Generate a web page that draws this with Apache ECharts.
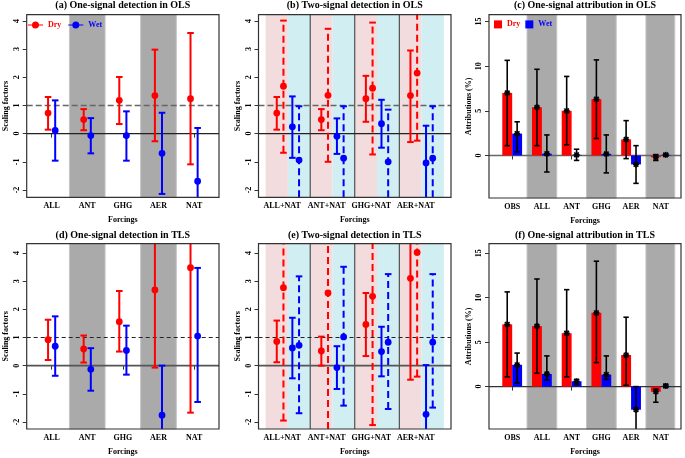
<!DOCTYPE html>
<html><head><meta charset="utf-8">
<script src="https://cdn.jsdelivr.net/npm/echarts@6/dist/echarts.min.js"></script>
<style>html,body{margin:0;padding:0;background:#fff}#c{width:685px;height:458px}</style>
</head><body><div id="c"></div>
<script>
// ---------------- DATA ----------------
var oneCats = ['ALL', 'ANT', 'GHG', 'AER', 'NAT'];
var twoCats = ['ALL+NAT', 'ANT+NAT', 'GHG+NAT', 'AER+NAT'];
var attrCats = ['OBS', 'ALL', 'ANT', 'GHG', 'AER', 'NAT'];
var sfTicks = [-2, -1, 0, 1, 2, 3, 4];
var attrTicks = [0, 5, 10, 15];
// each entry: [best estimate, lower bound, upper bound]
// (a) one-signal detection, OLS
var olsOneDry = [[0.73, 0.14, 1.30], [0.50, 0.12, 0.87], [1.18, 0.34, 2.01], [1.35, -0.27, 2.98], [1.24, -1.09, 3.57]];
var olsOneWet = [[0.11, -0.96, 1.18], [-0.07, -0.70, 0.55], [-0.07, -0.96, 0.79], [-0.70, -2.14, 0.74], [-1.69, -3.58, 0.20]];
// (b) two-signal detection, OLS (solid = first signal, dashed = NAT)
var olsTwoDrySig = [[0.73, 0.14, 1.30], [0.50, 0.12, 0.87], [1.24, 0.42, 2.05], [1.35, -0.30, 2.95]];
var olsTwoDryNat = [[1.68, -0.68, 4.01], [1.36, -1.00, 3.72], [1.61, -0.74, 3.94], [2.15, -0.25, 4.55]];
var olsTwoWetSig = [[0.24, -0.86, 1.32], [-0.09, -0.72, 0.54], [0.35, -0.50, 1.20], [-1.04, -2.36, 0.28]];
var olsTwoWetNat = [[-0.94, -2.85, 0.97], [-0.87, -2.71, 0.97], [-1.00, -2.85, 0.85], [-0.87, -2.71, 0.97]];
// (c) one-signal attribution, OLS (%)
var olsAttrDry = [[7.0, 1.1, 10.65], [5.4, 1.1, 9.65], [5.0, 1.2, 8.85], [6.3, 1.9, 10.7], [1.8, -0.35, 3.9], [-0.2, -0.56, 0.1]];
var olsAttrWet = [[2.45, 0.4, 3.77], [0.2, -1.85, 2.3], [0.07, -0.55, 0.7], [0.18, -1.95, 2.3], [-1.0, -3.12, 1.1], [0.07, -0.05, 0.18]];
// (d) one-signal detection, TLS
var tlsOneDry = [[0.92, 0.20, 1.63], [0.59, 0.11, 1.07], [1.56, 0.50, 2.65], [2.69, -0.07, 5.45], [3.48, -1.67, 8.63]];
var tlsOneWet = [[0.69, -0.36, 1.75], [-0.13, -0.89, 0.62], [0.54, -0.32, 1.42], [-1.76, -3.52, 0.0], [1.05, -1.29, 3.47]];
// (e) two-signal detection, TLS
var tlsTwoDrySig = [[0.86, 0.12, 1.60], [0.52, 0.0, 1.03], [1.46, 0.34, 2.58], [3.10, -0.50, 6.70]];
var tlsTwoDryNat = [[2.77, -1.95, 7.49], [2.58, -2.60, 7.80], [2.46, -2.11, 7.03], [4.02, -0.39, 8.43]];
var tlsTwoWetSig = [[0.63, -0.45, 1.70], [-0.07, -0.83, 0.69], [0.50, -0.38, 1.38], [-1.73, -3.48, 0.02]];
var tlsTwoWetNat = [[0.72, -1.69, 3.17], [1.02, -1.42, 3.51], [0.83, -1.54, 3.25], [0.83, -1.49, 3.25]];
// (f) one-signal attribution, TLS (%)
var tlsAttrDry = [[7.0, 1.1, 10.65], [6.8, 1.5, 12.1], [6.0, 1.1, 10.9], [8.3, 2.7, 14.1], [3.55, 0.15, 7.8], [-0.58, -1.76, -0.3]];
var tlsAttrWet = [[2.45, 0.4, 3.77], [1.42, 0.75, 3.45], [0.6, 0.22, 0.8], [1.35, 0.8, 3.45], [-2.6, -5.2, 0.0], [0.07, -0.1, 0.25]];

// ---------------- STYLE / LAYOUT ----------------
var FONT = '"Liberation Serif", "Times New Roman", serif';
var RED = '#ff0000', BLUE = '#0000ff';
var GRAY = '#aaaaaa', PINK = '#f3dcdd', CYAN = '#d1eef2';

var grids = [
  {left: 26.7, top: 14.7, width: 192.3, height: 182.6},
  {left: 258.5, top: 14.7, width: 192.5, height: 182.6},
  {left: 489, top: 14.7, width: 192, height: 183.3},
  {left: 26.7, top: 243.7, width: 192.3, height: 185.3},
  {left: 258.5, top: 243.7, width: 192.5, height: 185.3},
  {left: 489, top: 243.7, width: 192, height: 185.3}
];
var titles = ['(a) One-signal detection in OLS', '(b) Two-signal detection in OLS', '(c) One-signal attribution in OLS',
              '(d) One-signal detection in TLS', '(e) Two-signal detection in TLS', '(f) One-signal attribution in TLS'];
var xRanges = [[0.3, 5.7], [0.34, 4.66], [0.22, 6.68], [0.3, 5.7], [0.34, 4.66], [0.22, 6.68]];
var yRanges = [[-2.26, 4.22], [-2.26, 4.22], [-4.76, 15.76], [-2.25, 4.33], [-2.25, 4.33], [-4.77, 16.07]];
var TWO_TICK_OFF = -0.13;

function catIndexPositions(n, off) { var r = []; for (var i = 1; i <= n; i++) r.push(+(i + off).toFixed(3)); return r; }

function makeX(gi, cats, off) {
  var pos = catIndexPositions(cats.length, off);
  var map = {}; pos.forEach(function (p, i) { map[p.toFixed(3)] = cats[i]; });
  return {
    type: 'value', gridIndex: gi, min: xRanges[gi][0], max: xRanges[gi][1],
    name: 'Forcings', nameLocation: 'middle', nameGap: 19,
    nameTextStyle: {fontFamily: FONT, fontWeight: 'bold', fontSize: 8, color: '#000'},
    axisLine: {show: false}, splitLine: {show: false},
    axisTick: {show: true, length: 4, customValues: pos, lineStyle: {color: '#333', width: 1}},
    axisLabel: {show: true, customValues: pos, margin: 5, fontFamily: FONT, fontWeight: 'bold', fontSize: 8, color: '#000',
      formatter: function (v) { return map[(+v).toFixed(3)] || ''; }}
  };
}
function makeY(gi, name, ticks, gap) {
  return {
    type: 'value', gridIndex: gi, min: yRanges[gi][0], max: yRanges[gi][1],
    name: name, nameLocation: 'middle', nameGap: gap,
    nameTextStyle: {fontFamily: FONT, fontWeight: 'bold', fontSize: 8, color: '#000'},
    axisLine: {show: false}, splitLine: {show: false},
    axisTick: {show: true, length: 4, customValues: ticks, lineStyle: {color: '#333', width: 1}},
    axisLabel: {show: true, customValues: ticks, rotate: 90, margin: 6, fontFamily: FONT, fontWeight: 'bold', fontSize: 8, color: '#000'}
  };
}

var series = [];
function bandSeries(gi, bands, color, stroke) {
  series.push({
    type: 'custom', xAxisIndex: gi, yAxisIndex: gi, z: 1, silent: true,
    data: bands,
    renderItem: function (params, api) {
      var cs = params.coordSys;
      var x0 = api.coord([api.value(0), 0])[0], x1 = api.coord([api.value(1), 0])[0];
      return {type: 'rect', shape: {x: x0, y: cs.y, width: x1 - x0, height: cs.height},
        style: {fill: color, stroke: stroke || null, lineWidth: stroke ? 1 : 0}};
    }
  });
}
function vlineSeries(gi, xs, color, width) {
  series.push({
    type: 'custom', xAxisIndex: gi, yAxisIndex: gi, z: 2, silent: true,
    data: xs.map(function (x) { return [x]; }),
    renderItem: function (params, api) {
      var cs = params.coordSys;
      var x = api.coord([api.value(0), 0])[0];
      return {type: 'line', shape: {x1: x, y1: cs.y, x2: x, y2: cs.y + cs.height}, style: {stroke: color, lineWidth: width}};
    }
  });
}
function hlineSeries(gi, y, color, width, dash) {
  series.push({
    type: 'custom', xAxisIndex: gi, yAxisIndex: gi, z: 2, silent: true,
    data: [[1, y]],
    renderItem: function (params, api) {
      var cs = params.coordSys;
      var yy = api.coord([api.value(0), api.value(1)])[1];
      return {type: 'line', shape: {x1: cs.x, y1: yy, x2: cs.x + cs.width, y2: yy},
        style: {stroke: color, lineWidth: width, lineDash: dash || null}};
    }
  });
}
function errSeries(gi, name, vals, off, color, dashed, marker, lw, cap) {
  series.push({
    type: 'custom', name: name, xAxisIndex: gi, yAxisIndex: gi, z: 4, silent: true,
    itemStyle: {color: color},
    data: vals.map(function (v, i) { return [i + 1 + off, v[0], v[1], v[2]]; }),
    renderItem: function (params, api) {
      var cs = params.coordSys, top = cs.y, bot = cs.y + cs.height;
      var x = api.value(0);
      var pm = api.coord([x, api.value(1)]);
      var yl = api.coord([x, api.value(2)])[1], yh = api.coord([x, api.value(3)])[1];
      var px = pm[0];
      var ya = Math.max(top, Math.min(bot, yl)), yb = Math.max(top, Math.min(bot, yh));
      var ch = [{type: 'line', shape: {x1: px, y1: ya, x2: px, y2: yb},
        style: {stroke: color, lineWidth: lw, lineDash: dashed ? [7, 4] : null}}];
      [yl, yh].forEach(function (yy) {
        if (yy >= top - 0.5 && yy <= bot + 0.5) ch.push({type: 'line', shape: {x1: px - cap, y1: yy, x2: px + cap, y2: yy}, style: {stroke: color, lineWidth: lw}});
      });
      if (marker === 'dot') {
        ch.push({type: 'circle', shape: {cx: px, cy: pm[1], r: 3.4}, style: {fill: color}});
      } else {
        var r = 3, d = 2.3;
        ch.push({type: 'line', shape: {x1: px - r, y1: pm[1], x2: px + r, y2: pm[1]}, style: {stroke: color, lineWidth: 1.6}});
        ch.push({type: 'line', shape: {x1: px, y1: pm[1] - r, x2: px, y2: pm[1] + r}, style: {stroke: color, lineWidth: 1.6}});
        ch.push({type: 'line', shape: {x1: px - d, y1: pm[1] - d, x2: px + d, y2: pm[1] + d}, style: {stroke: color, lineWidth: 1.6}});
        ch.push({type: 'line', shape: {x1: px - d, y1: pm[1] + d, x2: px + d, y2: pm[1] - d}, style: {stroke: color, lineWidth: 1.6}});
      }
      return {type: 'group', children: ch};
    }
  });
}
function barSeries(gi, name, vals, side, color) {
  series.push({
    type: 'custom', name: name, xAxisIndex: gi, yAxisIndex: gi, z: 3, silent: true,
    itemStyle: {color: color},
    data: vals.map(function (v, i) { return [i + 1, v[0]]; }),
    renderItem: function (params, api) {
      var x = api.value(0);
      var p0 = api.coord([x, 0]), p1 = api.coord([x + side * 0.333, api.value(1)]);
      return {type: 'rect', shape: {x: Math.min(p0[0], p1[0]), y: Math.min(p0[1], p1[1]),
        width: Math.abs(p1[0] - p0[0]), height: Math.abs(p1[1] - p0[1])}, style: {fill: color}};
    }
  });
}

// --- one-signal detection panels (a), (d)
function onePanel(gi, dry, wet, zeroStyle, oneStyle) {
  bandSeries(gi, [[1.5, 2.5], [3.5, 4.5]], GRAY, '#c4c4c4');
  hlineSeries(gi, 0, zeroStyle[0], zeroStyle[1], null);
  hlineSeries(gi, 1, oneStyle[0], oneStyle[1], oneStyle[2]);
  errSeries(gi, 'Dry', dry, -0.1, RED, false, 'dot', 2, 3.3);
  errSeries(gi, 'Wet', wet, 0.1, BLUE, false, 'dot', 2, 3.3);
}
function twoPanel(gi, ds, dn, ws, wn, zeroStyle, oneStyle) {
  var pinks = [], cyans = [];
  for (var i = 1; i <= twoCats.length; i++) { pinks.push([i - 0.5, i]); cyans.push([i, i + 0.5]); }
  bandSeries(gi, pinks, PINK);
  bandSeries(gi, cyans, CYAN);
  vlineSeries(gi, [1.5, 2.5, 3.5], '#333', 1);
  hlineSeries(gi, 0, zeroStyle[0], zeroStyle[1], null);
  hlineSeries(gi, 1, oneStyle[0], oneStyle[1], oneStyle[2]);
  errSeries(gi, 'Dry sig', ds, -0.25, RED, false, 'dot', 2, 3.3);
  errSeries(gi, 'Dry nat', dn, -0.1, RED, true, 'dot', 2, 3.3);
  errSeries(gi, 'Wet sig', ws, 0.1, BLUE, false, 'dot', 2, 3.3);
  errSeries(gi, 'Wet nat', wn, 0.25, BLUE, true, 'dot', 2, 3.3);
}
function attrPanel(gi, dry, wet, zeroStyle) {
  bandSeries(gi, [[1.5, 2.5], [3.5, 4.5], [5.5, 6.47]], GRAY, '#c4c4c4');
  hlineSeries(gi, 0, zeroStyle[0], zeroStyle[1], null);
  barSeries(gi, 'Dry', dry, -1, RED);
  barSeries(gi, 'Wet', wet, 1, BLUE);
  errSeries(gi, 'Dry err', dry, -0.1667, '#000', false, 'star', 1.6, 2.7);
  errSeries(gi, 'Wet err', wet, 0.1667, '#000', false, 'star', 1.6, 2.7);
}

onePanel(0, olsOneDry, olsOneWet, ['#222', 1.2], ['#666', 1.5, [6, 3]]);
twoPanel(1, olsTwoDrySig, olsTwoDryNat, olsTwoWetSig, olsTwoWetNat, ['#222', 1.2], ['#666', 1.5, [6, 3]]);
attrPanel(2, olsAttrDry, olsAttrWet, ['#666', 1.5]);
onePanel(3, tlsOneDry, tlsOneWet, ['#555', 1.6], ['#222', 1.2, [4, 3]]);
twoPanel(4, tlsTwoDrySig, tlsTwoDryNat, tlsTwoWetSig, tlsTwoWetNat, ['#555', 1.6], ['#222', 1.2, [4, 3]]);
attrPanel(5, tlsAttrDry, tlsAttrWet, ['#333', 1.2]);

var xAxes = [makeX(0, oneCats, 0), makeX(1, twoCats, TWO_TICK_OFF), makeX(2, attrCats, 0),
             makeX(3, oneCats, 0), makeX(4, twoCats, TWO_TICK_OFF), makeX(5, attrCats, 0)];
var yAxes = [makeY(0, 'Scaling factors', sfTicks, 17), makeY(1, 'Scaling factors', sfTicks, 17), makeY(2, 'Attributions (%)', attrTicks, 16),
             makeY(3, 'Scaling factors', sfTicks, 17), makeY(4, 'Scaling factors', sfTicks, 17), makeY(5, 'Attributions (%)', attrTicks, 16)];

var titleOpts = titles.map(function (t, i) {
  var g = grids[i];
  return {text: t, left: g.left + g.width / 2, top: i < 3 ? 0.5 : 230.5, textAlign: 'center', padding: 0,
    textStyle: {fontFamily: FONT, fontWeight: 'bold', fontSize: 10, color: '#000'}};
});

var lineDotIcon = 'path://M0,2.9 L15,2.9 L15,4.1 L0,4.1 Z M7.5,0 A3.5,3.5 0 1,1 7.49,0 Z';
var legendText = {fontFamily: FONT, fontWeight: 'bold', fontSize: 8};

var option = {
  animation: false,
  backgroundColor: '#fff',
  title: titleOpts,
  grid: grids.map(function (g) {
    return {left: g.left, top: g.top, width: g.width, height: g.height, show: true, z: 10,
      backgroundColor: 'transparent', borderColor: '#333', borderWidth: 1.2, containLabel: false};
  }),
  legend: [
    {left: 28, top: 21, padding: 0, itemWidth: 15, itemHeight: 7, itemGap: 7, selectedMode: false, textStyle: legendText,
      data: [{name: 'Dry', icon: lineDotIcon, itemStyle: {color: RED}, textStyle: {color: RED}},
             {name: 'Wet', icon: lineDotIcon, itemStyle: {color: BLUE}, textStyle: {color: BLUE}}]},
    {left: 494, top: 20.4, padding: 0, itemWidth: 8, itemHeight: 8, itemGap: 5, selectedMode: false, textStyle: legendText,
      data: [{name: 'Dry', icon: 'rect', itemStyle: {color: RED}, textStyle: {color: RED}},
             {name: 'Wet', icon: 'rect', itemStyle: {color: BLUE}, textStyle: {color: BLUE}}]}
  ],
  xAxis: xAxes,
  yAxis: yAxes,
  series: series
};
var chart = echarts.init(document.getElementById('c'));
chart.setOption(option);
</script></body></html>
